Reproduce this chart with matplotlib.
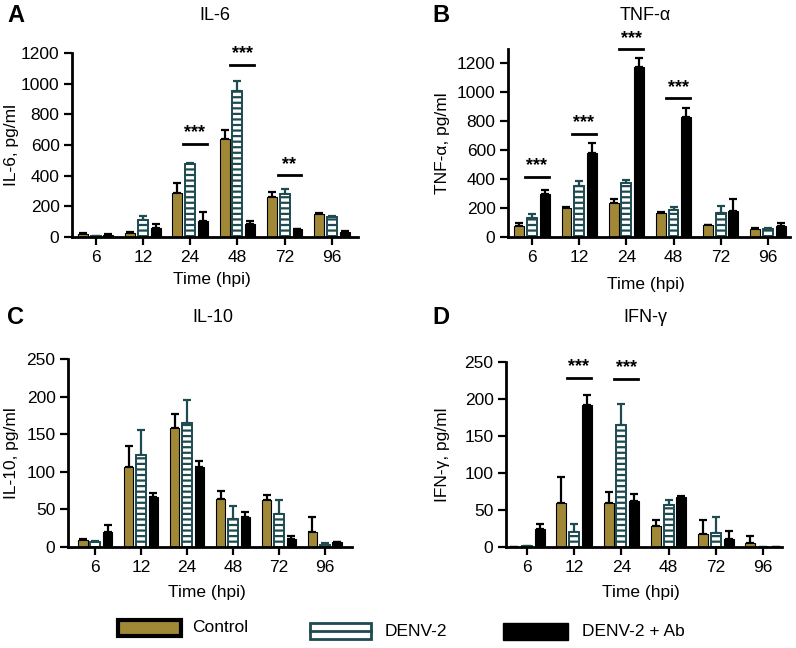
import matplotlib
matplotlib.use('Agg')
import matplotlib.pyplot as plt
import numpy as np
from matplotlib.patches import Rectangle
from matplotlib.lines import Line2D

plt.rcParams['font.family'] = ['Liberation Sans', 'DejaVu Sans']
plt.rcParams['hatch.linewidth'] = 1.6

# data
times = ['6', '12', '24', '48', '72', '96']
groups = ['Control', 'DENV-2', 'DENV-2 + Ab']

il6_ctrl = [20, 25, 290, 640, 260, 150]
il6_ctrl_err = [5, 5, 65, 60, 35, 5]
il6_denv = [5, 110, 475, 955, 280, 130]
il6_denv_err = [3, 30, 5, 60, 30, 5]
il6_ab = [15, 60, 105, 85, 50, 35]
il6_ab_err = [5, 25, 55, 20, 5, 5]

tnf_ctrl = [75, 200, 235, 165, 80, 55]
tnf_ctrl_err = [20, 8, 25, 10, 5, 5]
tnf_denv = [130, 355, 375, 185, 165, 55]
tnf_denv_err = [30, 30, 20, 25, 50, 5]
tnf_ab = [300, 580, 1175, 830, 180, 75]
tnf_ab_err = [25, 70, 65, 65, 85, 20]

il10_ctrl = [9, 106, 158, 64, 63, 20]
il10_ctrl_err = [1, 28, 19, 10, 6, 20]
il10_denv = [6, 123, 165, 37, 44, 3]
il10_denv_err = [2, 33, 30, 17, 18, 2]
il10_ab = [20, 67, 107, 40, 10, 6]
il10_ab_err = [9, 5, 8, 6, 4, 1]

ifn_ctrl = [0, 60, 60, 28, 17, 5]
ifn_ctrl_err = [0, 35, 14, 9, 20, 10]
ifn_denv = [1, 20, 165, 57, 19, 0]
ifn_denv_err = [0, 11, 28, 7, 21, 0]
ifn_ab = [25, 192, 62, 68, 11, 0]
ifn_ab_err = [6, 14, 9, 1, 11, 0]

# significance marks: (time index, line height, label)
il6_sig = [(2, 608, '***'), (3, 1120, '***'), (4, 402, '**')]
tnf_sig = [(0, 418, '***'), (1, 712, '***'), (2, 1297, '***'), (3, 958, '***')]
il10_sig = []
ifn_sig = [(1, 228, '***'), (2, 227, '***')]

gold = '#A08836'
teal = '#1D4B50'

W, H = 796, 648
fig = plt.figure(figsize=(W / 100, H / 100), dpi=100)


def px_axes(left, top, right, bottom):
    return fig.add_axes([left / W, 1 - bottom / H, (right - left) / W, (bottom - top) / H])


def panel(ax, ctrl, ctrl_err, denv, denv_err, ab, ab_err, sig, ylim, yticks, xlim,
          ylabel, ylab_x, xlab_y):
    x = np.arange(len(times))
    off, bw = 0.27, 0.21
    ax.bar(x - off, ctrl, bw, color=gold, edgecolor='black', linewidth=0.8, zorder=2)
    ax.bar(x, denv, bw, color='white', edgecolor=teal, hatch='---', linewidth=1.4, zorder=2)
    ax.bar(x + off, ab, bw, color='black', edgecolor='black', linewidth=0.8, zorder=2)
    for xs, v, e, c in [(x - off, ctrl, ctrl_err, 'black'), (x, denv, denv_err, teal),
                        (x + off, ab, ab_err, 'black')]:
        e = np.array(e)
        ax.errorbar(xs, v, yerr=[np.zeros_like(e), e], fmt='none', ecolor=c,
                    elinewidth=1.6, capsize=3, capthick=1.6, zorder=1)
    for i, yv, lab in sig:
        ax.plot([i - 0.15, i + 0.35], [yv, yv], color='black', lw=2, clip_on=False)
        ax.text(i + 0.1, yv + (ylim[1] * 0.015), lab, ha='center', va='bottom',
                fontsize=13, fontweight='bold', clip_on=False)
    ax.set_xlim(*xlim)
    ax.set_ylim(*ylim)
    ax.set_xticks(x)
    ax.set_xticklabels(times)
    ax.set_yticks(yticks)
    for s in ['top', 'right']:
        ax.spines[s].set_visible(False)
    for s in ['left', 'bottom']:
        ax.spines[s].set_linewidth(2)
    ax.tick_params(axis='both', length=6, width=1.6, labelsize=12.5, pad=3)
    ax.set_ylabel(ylabel, fontsize=12.5)
    ax.yaxis.set_label_coords(ylab_x, 0.5)
    ax.set_xlabel('Time (hpi)', fontsize=12.5, va='top')
    ax.xaxis.set_label_coords(0.49, xlab_y)


axA = px_axes(72, 53, 358, 237)
panel(axA, il6_ctrl, il6_ctrl_err, il6_denv, il6_denv_err, il6_ab, il6_ab_err, il6_sig,
      (0, 1200), range(0, 1201, 200), (-0.5, 5.55), 'IL-6, pg/ml', -0.185, -0.19)
axB = px_axes(508, 49, 790, 237)
panel(axB, tnf_ctrl, tnf_ctrl_err, tnf_denv, tnf_denv_err, tnf_ab, tnf_ab_err, tnf_sig,
      (0, 1300), range(0, 1201, 200), (-0.51, 5.47), 'TNF-α, pg/ml', -0.206, -0.213)
axC = px_axes(68, 359, 352, 547)
panel(axC, il10_ctrl, il10_ctrl_err, il10_denv, il10_denv_err, il10_ab, il10_ab_err, il10_sig,
      (0, 250), range(0, 251, 50), (-0.59, 5.59), 'IL-10, pg/ml', -0.173, -0.202)
axD = px_axes(506, 362, 782, 547)
panel(axD, ifn_ctrl, ifn_ctrl_err, ifn_denv, ifn_denv_err, ifn_ab, ifn_ab_err, ifn_sig,
      (0, 250), range(0, 251, 50), (-0.44, 5.4), 'IFN-γ, pg/ml', -0.203, -0.205)

# titles and panel letters
for lx, tx, y, letter, title in [(16, 215, 15, 'A', 'IL-6'), (441, 645, 15, 'B', 'TNF-α'),
                                 (16, 213, 317, 'C', 'IL-10'), (441, 645, 317, 'D', 'IFN-γ')]:
    fig.text(lx / W, 1 - y / H, letter, fontsize=17, fontweight='bold', ha='center', va='center')
    fig.text(tx / W, 1 - y / H, title, fontsize=13, ha='center', va='center')


# legend drawn by hand
def fig_rect(x0, y0, x1, y1, **kw):
    fig.patches.append(Rectangle((x0 / W, 1 - y1 / H), (x1 - x0) / W, (y1 - y0) / H,
                                 transform=fig.transFigure, figure=fig, **kw))


fig_rect(118, 620, 181, 636, facecolor=gold, edgecolor='black', linewidth=3)
fig_rect(310, 623, 371, 639, facecolor='white', edgecolor=teal, linewidth=2)
fig.lines.append(Line2D([310 / W, 371 / W], [1 - 631 / H, 1 - 631 / H], color=teal, lw=2,
                        transform=fig.transFigure, figure=fig))
fig_rect(503, 623, 568, 640, facecolor='black', edgecolor='black', linewidth=1)
fig.text(192 / W, 1 - 627 / H, groups[0], fontsize=12.5, ha='left', va='center')
fig.text(385 / W, 1 - 631 / H, groups[1], fontsize=12.5, ha='left', va='center')
fig.text(582 / W, 1 - 632 / H, groups[2], fontsize=12.5, ha='left', va='center')

fig.savefig('out.png', dpi=100)
